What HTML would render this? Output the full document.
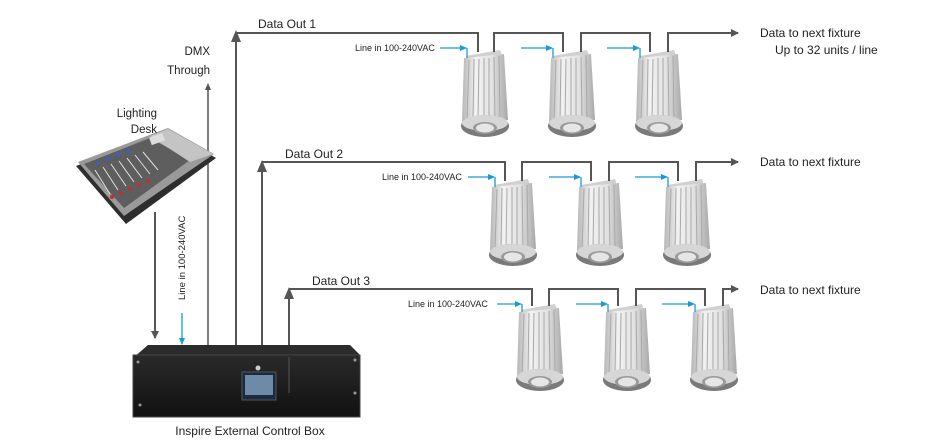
<!DOCTYPE html>
<html><head><meta charset="utf-8"><style>
html,body{margin:0;padding:0;background:#fff;width:934px;height:444px;overflow:hidden}
svg{display:block}
text{font-family:"Liberation Sans",sans-serif;fill:#222}
</style></head><body>
<svg width="934" height="444" viewBox="0 0 934 444" xmlns="http://www.w3.org/2000/svg">
<defs>
<linearGradient id="bg" x1="0" x2="1" y1="0" y2="0">
<stop offset="0" stop-color="#b5b5b5"/><stop offset="0.3" stop-color="#f2f2f2"/><stop offset="0.65" stop-color="#e2e2e2"/><stop offset="1" stop-color="#a8a8a8"/></linearGradient>
<linearGradient id="bx" x1="0" x2="0" y1="0" y2="1"><stop offset="0" stop-color="#2a2a2a"/><stop offset="1" stop-color="#111"/></linearGradient>
<g id="fx">
<polygon points="4,8 38,2 40,8 6,12" fill="#d0d0d0"/>
<polygon points="2,10 42,6 46,72 0,74" fill="url(#bg)"/>
<g stroke="#a8a8a8" stroke-width="1">
<line x1="7" y1="12" x2="5" y2="72"/><line x1="12" y1="11" x2="11" y2="72"/><line x1="17" y1="11" x2="16" y2="72"/><line x1="22" y1="10" x2="22" y2="72"/><line x1="27" y1="10" x2="27" y2="72"/><line x1="32" y1="9" x2="33" y2="72"/><line x1="37" y1="8" x2="38" y2="72"/></g>
<ellipse cx="23" cy="78" rx="24" ry="11" fill="#7a7a7a"/>
<ellipse cx="23" cy="75" rx="23" ry="8" fill="#d6d6d6"/>
<ellipse cx="23" cy="80" rx="12" ry="6" fill="#9a9a9a"/>
<ellipse cx="23" cy="80" rx="9" ry="4.5" fill="#e6e6e6"/>
</g>
<marker id="ah" markerWidth="8" markerHeight="8" refX="7" refY="4" orient="auto" markerUnits="userSpaceOnUse"><path d="M0,0 L8,4 L0,8z" fill="#555"/></marker>
<marker id="ab" markerWidth="7" markerHeight="6" refX="6" refY="3" orient="auto" markerUnits="userSpaceOnUse"><path d="M0,0 L7,3 L0,6z" fill="#1a9ad8"/></marker>
</defs>

<g stroke="#555" stroke-width="2" fill="none">
<line x1="155" y1="212" x2="155" y2="338" marker-end="url(#ah)"/>
<line x1="208" y1="90" x2="208" y2="346" stroke-width="1.5"/>
<path d="M236,346 V40" /><path d="M236,33 H478 V52"/>
<path d="M262,346 V170"/><path d="M262,162 H505 V181"/>
<path d="M289,346 V297"/><path d="M289,289 H532 V306"/>
</g>
<polygon points="231,42 241,42 236,30" fill="#555"/>
<polygon points="257,172 267,172 262,160" fill="#555"/>
<polygon points="284,299 294,299 289,287" fill="#555"/>
<polygon points="205,90 211,90 208,83" fill="#555"/>

<use href="#fx" x="462" y="48"/><use href="#fx" x="549" y="48"/><use href="#fx" x="636" y="48"/>
<use href="#fx" x="490" y="177"/><use href="#fx" x="577" y="177"/><use href="#fx" x="664" y="177"/>
<use href="#fx" x="517" y="302"/><use href="#fx" x="604" y="302"/><use href="#fx" x="691" y="302"/>

<g stroke="#555" stroke-width="2" fill="none">
<path d="M494,52 V33 H563 V52"/><path d="M581,52 V33 H650 V52"/><path d="M668,52 V33 H738" marker-end="url(#ah)"/>
<path d="M522,181 V162 H591 V181"/><path d="M609,181 V162 H678 V181"/><path d="M696,181 V162 H738" marker-end="url(#ah)"/>
<path d="M549,306 V289 H618 V306"/><path d="M636,306 V289 H705 V306"/><path d="M723,306 V289 H738" marker-end="url(#ah)"/>
</g>

<g stroke="#1a9ad8" stroke-width="1.3" fill="none">
<path d="M440,48 H466" marker-end="url(#ab)"/><path d="M467,48 V58"/>
<path d="M521,48 H552" marker-end="url(#ab)"/><path d="M553,48 V58"/>
<path d="M607,48 H639" marker-end="url(#ab)"/><path d="M640,48 V58"/>
<path d="M468,177 H494" marker-end="url(#ab)"/><path d="M495,177 V187"/>
<path d="M549,177 H580" marker-end="url(#ab)"/><path d="M581,177 V187"/>
<path d="M635,177 H667" marker-end="url(#ab)"/><path d="M668,177 V187"/>
<path d="M497,304 H521" marker-end="url(#ab)"/><path d="M522,304 V312"/>
<path d="M576,304 H607" marker-end="url(#ab)"/><path d="M608,304 V312"/>
<path d="M662,304 H694" marker-end="url(#ab)"/><path d="M695,304 V312"/>
<path d="M182,313 V344" marker-end="url(#ab)"/>
</g>

<!-- lighting desk -->
<polygon points="76,166 168,130 216,158 126,224" fill="#2e2e2e"/>
<polygon points="78,162 168,128 214,154 124,216" fill="#9a9a9a"/>
<polygon points="84,164 150,138 190,160 124,208" fill="#5e5e5e"/>
<polygon points="150,136 168,129 213,154 190,162" fill="#c4c4c4"/>
<g stroke="#e0e0e0" stroke-width="1">
<line x1="95" y1="170" x2="110" y2="194"/><line x1="103" y1="167" x2="118" y2="190"/><line x1="111" y1="164" x2="126" y2="186"/><line x1="119" y1="161" x2="134" y2="182"/><line x1="127" y1="158" x2="142" y2="178"/><line x1="135" y1="155" x2="150" y2="174"/><line x1="143" y1="152" x2="158" y2="170"/></g>
<g fill="#c03030"><circle cx="112" cy="197" r="2"/><circle cx="121" cy="193" r="2"/><circle cx="130" cy="189" r="2"/><circle cx="139" cy="185" r="2"/><circle cx="148" cy="181" r="2"/></g>
<g fill="#3a60c0"><circle cx="98" cy="163" r="2"/><circle cx="108" cy="159" r="2"/><circle cx="118" cy="155" r="2"/><circle cx="128" cy="151" r="2"/></g>
<rect x="150" y="135" width="14" height="8" fill="#ddd" transform="rotate(-20 157 139)"/>

<!-- control box -->
<polygon points="133,358 148,345 350,345 360,355" fill="#2c2c2c"/>
<rect x="133" y="355" width="227" height="62" fill="url(#bx)"/>
<rect x="133" y="355" width="227" height="62" fill="none" stroke="#444"/>
<rect x="242" y="372" width="34" height="28" fill="#1a2a40" stroke="#555"/>
<rect x="245" y="375" width="28" height="20" fill="#6d8aa6"/>
<circle cx="258" cy="368" r="2.5" fill="#ccc"/>
<circle cx="138" cy="362" r="1.5" fill="#999"/><circle cx="355" cy="360" r="1.5" fill="#999"/><circle cx="355" cy="393" r="1.5" fill="#999"/><circle cx="140" cy="405" r="1.5" fill="#999"/>
<line x1="289" y1="357" x2="289" y2="393" stroke="#555"/>

<text x="258" y="28" font-size="12">Data Out 1</text>
<text x="285" y="158" font-size="12">Data Out 2</text>
<text x="312" y="285" font-size="12">Data Out 3</text>
<text x="210" y="55" font-size="11.5" text-anchor="end">DMX</text>
<text x="210" y="74" font-size="11.5" text-anchor="end">Through</text>
<text x="157" y="117" font-size="11.5" text-anchor="end">Lighting</text>
<text x="157" y="133" font-size="11.5" text-anchor="end">Desk</text>
<text x="355" y="51" font-size="9">Line in 100-240VAC</text>
<text x="382" y="180" font-size="9">Line in 100-240VAC</text>
<text x="408" y="307" font-size="9">Line in 100-240VAC</text>
<text transform="translate(185,300) rotate(-90)" font-size="9.5">Line in 100-240VAC</text>
<text x="760" y="37" font-size="12">Data to next fixture</text>
<text x="775" y="54" font-size="12">Up to 32 units / line</text>
<text x="760" y="166" font-size="12">Data to next fixture</text>
<text x="760" y="294" font-size="12">Data to next fixture</text>
<text x="250" y="435" font-size="12" text-anchor="middle">Inspire External Control Box</text>
</svg>
</body></html>
